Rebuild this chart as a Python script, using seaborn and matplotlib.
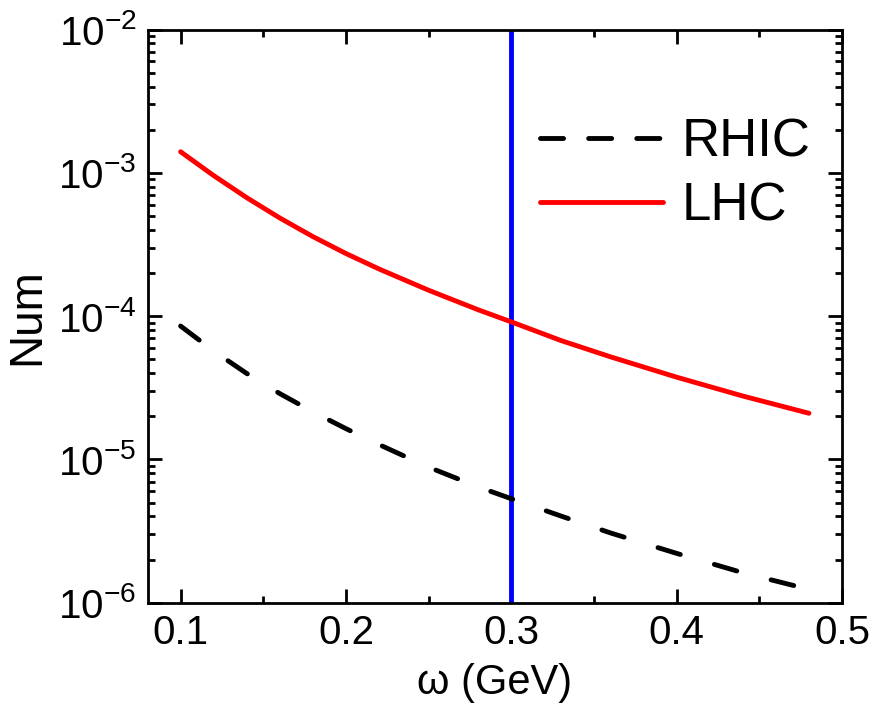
import matplotlib
matplotlib.use("Agg")
import matplotlib.pyplot as plt
import matplotlib.ticker as mticker
import numpy as np
import pandas as pd
import seaborn as sns

omega = [0.10, 0.12, 0.14, 0.16, 0.18, 0.20, 0.22, 0.25, 0.28, 0.30, 0.33, 0.36, 0.40, 0.44, 0.48]
rhic = [8.53e-5, 5.71e-5, 3.98e-5, 2.88e-5, 2.15e-5, 1.64e-5, 1.27e-5, 8.83e-6, 6.43e-6,
        5.32e-6, 4.03e-6, 3.07e-6, 2.21e-6, 1.62e-6, 1.24e-6]
lhc = [1.403e-3, 9.57e-4, 6.71e-4, 4.84e-4, 3.59e-4, 2.735e-4, 2.133e-4, 1.516e-4, 1.107e-4,
       9.12e-5, 6.76e-5, 5.20e-5, 3.75e-5, 2.77e-5, 2.10e-5]
omega_cut = 0.3
x_ticks = [0.1, 0.2, 0.3, 0.4, 0.5]
y_ticks = [1e-6, 1e-5, 1e-4, 1e-3, 1e-2]
y_tick_labels = ["10$^{-6}$", "10$^{-5}$", "10$^{-4}$", "10$^{-3}$", "10$^{-2}$"]

sns.set_theme(style="ticks")
plt.rcParams["font.family"] = ["Liberation Sans", "DejaVu Sans"]
plt.rcParams["mathtext.fontset"] = "custom"
plt.rcParams["mathtext.rm"] = "Liberation Sans"
plt.rcParams["mathtext.it"] = "Liberation Sans"
plt.rcParams["text.color"] = "black"
plt.rcParams["axes.labelcolor"] = "black"

df_r = pd.DataFrame({"omega": omega, "val": rhic})
df_l = pd.DataFrame({"omega": omega, "val": lhc})

fig = plt.figure(figsize=(8.75, 7.15), dpi=100)
ax = fig.add_axes([0.1686, 0.157, 0.9623 - 0.1686, 0.9587 - 0.157])

lw = 3.5
sns.lineplot(data=df_r, x="omega", y="val", ax=ax, color="black", lw=lw,
             label="RHIC", linestyle=(0, (4.8, 7.3)))
sns.lineplot(data=df_l, x="omega", y="val", ax=ax, color="#ff0000", lw=lw,
             label="LHC")
for line in ax.lines:
    line.set_dash_capstyle("round")
    line.set_solid_capstyle("round")
ax.axvline(omega_cut, color="#0000ff", lw=3.5, zorder=1)

ax.set_yscale("log")
ax.set_xlim(0.08, 0.5)
ax.set_ylim(1e-6, 1e-2)
ax.set_xticks(x_ticks)
ax.set_xticklabels([f"{t:.1f}" for t in x_ticks])
ax.xaxis.set_minor_locator(mticker.MultipleLocator(0.05))
ax.set_yticks(y_ticks)
ax.set_yticklabels(y_tick_labels)
ax.yaxis.set_minor_locator(mticker.LogLocator(base=10, subs=np.arange(2, 10)))
ax.yaxis.set_minor_formatter(mticker.NullFormatter())

ax.tick_params(which="both", direction="in", top=True, right=True, width=2,
               colors="black", labelcolor="black")
ax.tick_params(which="major", length=10, labelsize=29, pad=8)
ax.tick_params(which="minor", length=5)
for s in ax.spines.values():
    s.set_linewidth(2)
    s.set_color("black")

ax.set_xlabel("ω (GeV)", fontsize=30, labelpad=8)
ax.set_ylabel("Num", fontsize=33, labelpad=6)

leg = ax.legend(loc="upper left", bbox_to_anchor=(0.565, 0.847), frameon=False,
                borderaxespad=0, borderpad=0,
                fontsize=38, handlelength=2.33, handletextpad=0.36, labelspacing=0.27)
for t in leg.get_texts():
    t.set_color("black")
hl = leg.get_lines()[0]
hl.set_linestyle((0, (4.75, 5.15)))
hl.set_dash_capstyle("round")
leg.get_lines()[1].set_solid_capstyle("round")

fig.savefig("out.png", dpi=100)
